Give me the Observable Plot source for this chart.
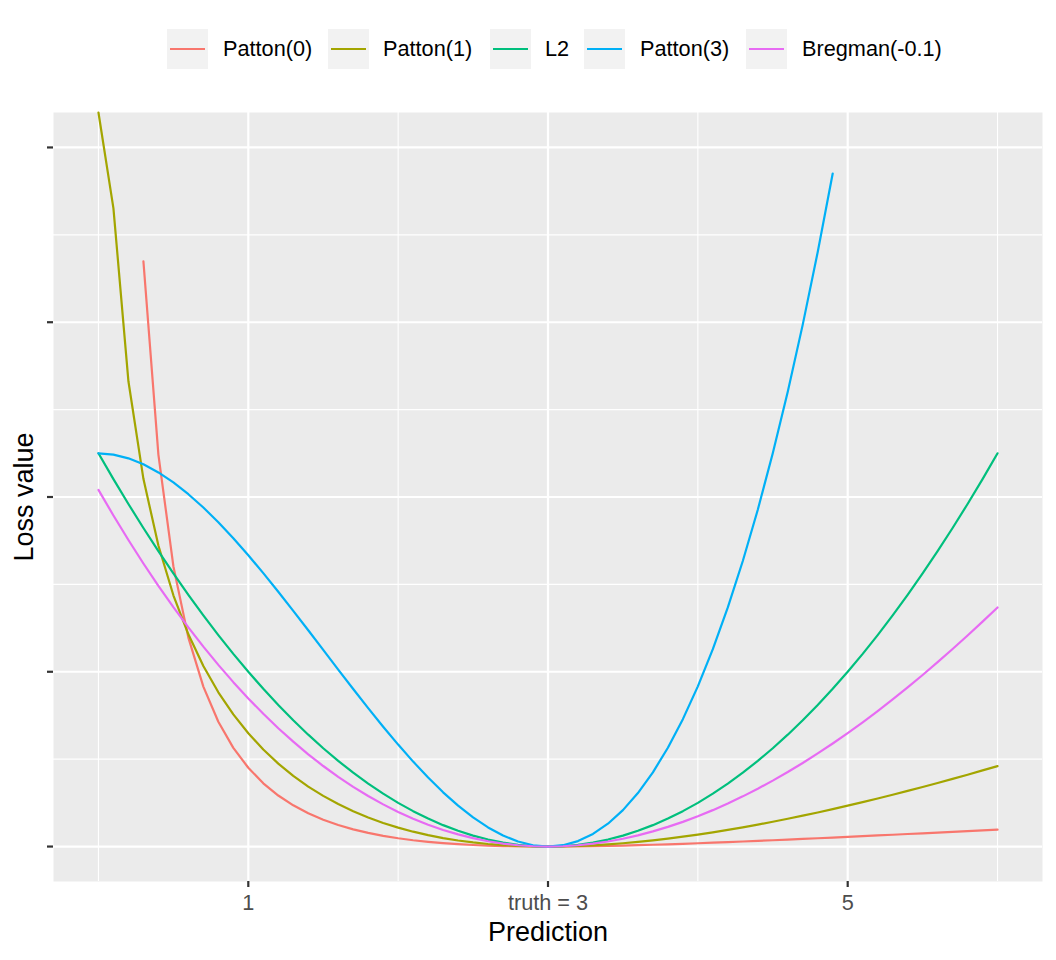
<!DOCTYPE html>
<html>
<head>
<meta charset="utf-8">
<script src="https://cdn.jsdelivr.net/npm/d3@7"></script>
<script src="https://cdn.jsdelivr.net/npm/@observablehq/plot@0.6"></script>
<style>
  body { margin: 0; background: #fff; font-family: "Liberation Sans", Arial, Helvetica, sans-serif; }
  #wrap { width: 1056px; height: 960px; position: relative; }
  #legend { position: relative; width: 1056px; height: 90px; }
  .key { position: absolute; top: 29px; width: 41px; height: 40px; background: #F2F2F2; }
  .key span { position: absolute; left: 3px; top: 19px; width: 35px; height: 2.2px; }
  .lab { position: absolute; top: 29px; height: 40px; line-height: 40px; font-size: 21.7px; color: #000; white-space: nowrap; }
</style>
</head>
<body>
<div id="wrap">
  <div id="legend"></div>
  <div id="chart"></div>
</div>
<script>
// ---- data ----
const seriesNames = ["Patton(0)", "Patton(1)", "L2", "Patton(3)", "Bregman(-0.1)"];
const seriesColors = ["#F8766D", "#A3A500", "#00BF7D", "#00B0F6", "#E76BF3"];

const prediction = [0,0.1,0.2,0.3,0.4,0.5,0.6,0.7,0.8,0.9,1,1.1,1.2,1.3,1.4,1.5,1.6,1.7,1.8,1.9,2,2.1,2.2,2.3,2.4,2.5,2.6,2.7,2.8,2.9,3,3.1,3.2,3.3,3.4,3.5,3.6,3.7,3.8,3.9,4,4.1,4.2,4.3,4.4,4.5,4.6,4.7,4.8,4.9,5,5.1,5.2,5.3,5.4,5.5,5.6,5.7,5.8,5.9,6];

const patton0 = [null,null,null,13.3948,8.9702,6.4165,4.7811,3.6609,2.8565,2.2587,1.8028,1.4479,1.1674,0.9429,0.7614,0.6137,0.4928,0.3935,0.3117,0.2444,0.1891,0.1438,0.1070,0.0773,0.0537,0.0354,0.0215,0.0115,0.0049,0.0012,0,0.0011,0.0041,0.0088,0.0150,0.0226,0.0313,0.0411,0.0517,0.0632,0.0754,0.0882,0.1015,0.1154,0.1296,0.1443,0.1592,0.1745,0.1900,0.2057,0.2217,0.2377,0.2539,0.2703,0.2867,0.3032,0.3197,0.3363,0.3530,0.3696,0.3863];

const patton1 = [Infinity,14.6072,10.6483,8.4155,6.8894,5.7506,4.8566,4.1317,3.5305,3.0238,2.5917,2.2198,1.8977,1.6175,1.3728,1.1589,0.9717,0.8079,0.6650,0.5405,0.4328,0.3400,0.2609,0.1942,0.1389,0.0939,0.0586,0.0322,0.0140,0.0034,0,0.0033,0.0128,0.0281,0.0490,0.0751,0.1061,0.1417,0.1817,0.2258,0.2739,0.3258,0.3812,0.4400,0.5020,0.5672,0.6353,0.7063,0.7800,0.8563,0.9350,1.0162,1.0997,1.1854,1.2733,1.3632,1.4551,1.5489,1.6445,1.7420,1.8411];

const l2 = [9,8.41,7.84,7.29,6.76,6.25,5.76,5.29,4.84,4.41,4,3.61,3.24,2.89,2.56,2.25,1.96,1.69,1.44,1.21,1,0.81,0.64,0.49,0.36,0.25,0.16,0.09,0.04,0.01,0,0.01,0.04,0.09,0.16,0.25,0.36,0.49,0.64,0.81,1,1.21,1.44,1.69,1.96,2.25,2.56,2.89,3.24,3.61,4,4.41,4.84,5.29,5.76,6.25,6.76,7.29,7.84,8.41,9];

const patton3 = [9,8.9707,8.8853,8.748,8.5627,8.3333,8.064,7.7587,7.4213,7.056,6.6667,6.2573,5.832,5.3947,4.9493,4.5,4.0507,3.6053,3.168,2.7427,2.3333,1.944,1.5787,1.2413,0.936,0.6667,0.4373,0.252,0.1147,0.0293,0,0.0307,0.1253,0.288,0.5227,0.8333,1.224,1.6987,2.2613,2.916,3.6667,4.5173,5.472,6.5347,7.7093,9,10.4107,11.9453,13.608,15.4027,null,null,null,null,null,null,null,null,null,null,null];

const bregman = [8.1636,7.5765,7.0149,6.4785,5.9668,5.4792,5.0153,4.5749,4.1575,3.7625,3.3897,3.0385,2.7087,2.3998,2.1115,1.8432,1.5948,1.3659,1.1561,0.9649,0.7920,0.6373,0.5001,0.3803,0.2775,0.1914,0.1216,0.0681,0.0299,0.0073,0,0.0073,0.0292,0.0653,0.1154,0.1791,0.2563,0.3465,0.4496,0.5652,0.6932,0.8333,0.9851,1.1486,1.3234,1.5092,1.7057,1.9131,2.1308,2.3586,2.5962,2.8436,3.1005,3.3668,3.6421,3.9261,4.2189,4.5202,4.8297,5.1472,5.4725];

const xMajorTicks = [1, 3, 5];
const xTickLabels = ["1", "truth = 3", "5"];
const xMinorGrid = [0, 2, 4, 6];
const yMajorTicks = [0, 4, 8, 12, 16];
const yMinorGrid = [2, 6, 10, 14];

// ---- build ----
const seriesValues = [patton0, patton1, l2, patton3, bregman];
const yDomain = [-0.8, 16.8];
const rows = [];
seriesNames.forEach((name, si) => {
  seriesValues[si].forEach((v, i) => rows.push({x: prediction[i], v, s: name}));
});

// legend
const legend = document.getElementById("legend");
const keyX = [167, 328, 490, 584, 746];
const labX = [223, 383, 545, 640, 802];
seriesNames.forEach((name, i) => {
  const k = document.createElement("div");
  k.className = "key"; k.style.left = keyX[i] + "px";
  const ln = document.createElement("span"); ln.style.background = seriesColors[i];
  k.appendChild(ln); legend.appendChild(k);
  const t = document.createElement("div");
  t.className = "lab"; t.style.left = labX[i] + "px"; t.textContent = name;
  legend.appendChild(t);
});

const font = '"Liberation Sans", Arial, Helvetica, sans-serif';
const chart = Plot.plot({
  width: 1056,
  height: 870,
  marginTop: 22,
  marginBottom: 79,
  marginLeft: 53,
  marginRight: 14,
  style: {fontFamily: font, fontSize: "21.7px", background: "white", overflow: "visible"},
  x: {domain: [-0.3, 6.3]},
  y: {domain: yDomain},
  color: {domain: seriesNames, range: seriesColors},
  marks: [
    Plot.frame({fill: "#EBEBEB", stroke: null}),
    Plot.gridX(xMinorGrid, {stroke: "white", strokeOpacity: 1, strokeWidth: 1.1}),
    Plot.gridY(yMinorGrid, {stroke: "white", strokeOpacity: 1, strokeWidth: 1.1}),
    Plot.gridX(xMajorTicks, {stroke: "white", strokeOpacity: 1, strokeWidth: 2.2}),
    Plot.gridY(yMajorTicks, {stroke: "white", strokeOpacity: 1, strokeWidth: 2.2}),
    Plot.line(rows, {
      x: "x",
      y: d => (d.v == null ? NaN : Math.min(d.v, yDomain[1])),
      z: "s",
      stroke: "s",
      strokeWidth: 2.2
    }),
    Plot.axisX({ticks: xMajorTicks, tickSize: 6, stroke: "#333333", strokeWidth: 2.2, tickFormat: () => "", label: null}),
    Plot.axisX({ticks: xMajorTicks, tickSize: 0, tickPadding: 13, fill: "#4D4D4D", fontSize: 21.7,
      tickFormat: d => xTickLabels[xMajorTicks.indexOf(d)], label: null}),
    Plot.axisY({ticks: yMajorTicks, tickSize: 6, stroke: "#333333", strokeWidth: 2.2, tickFormat: () => "", label: null}),
    Plot.text(["Prediction"], {text: d => d, frameAnchor: "bottom", dy: 59, lineAnchor: "bottom", fontSize: 27, fill: "black"}),
    Plot.text(["Loss value"], {text: d => d, frameAnchor: "left", dx: -29, rotate: -90, lineAnchor: "middle", textAnchor: "middle", fontSize: 27, fill: "black"})
  ]
});
document.getElementById("chart").appendChild(chart);
</script>
</body>
</html>
